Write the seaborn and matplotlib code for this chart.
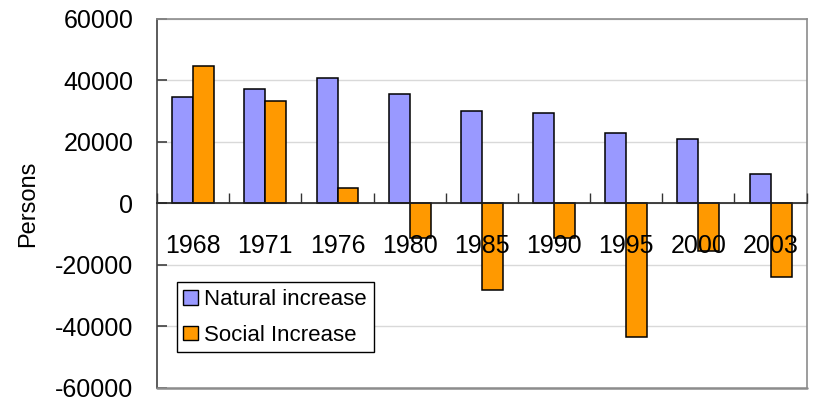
import numpy as np
import pandas as pd
import matplotlib
matplotlib.use("Agg")
import matplotlib.pyplot as plt
import seaborn as sns

# Population change by year (persons)
years = ["1968", "1971", "1976", "1980", "1985", "1990", "1995", "2000", "2003"]
natural_increase = [34500, 37100, 40900, 35700, 30100, 29300, 23000, 21100, 9600]
social_increase = [44700, 33200, 5000, -11300, -28100, -11300, -43500, -15300, -23800]
series_names = ["Natural increase", "Social Increase"]
y_ticks = [-60000, -40000, -20000, 0, 20000, 40000, 60000]

df = pd.DataFrame({
    "year": years * 2,
    "value": natural_increase + social_increase,
    "series": [series_names[0]] * len(years) + [series_names[1]] * len(years),
})

sns.set_theme(style="white")
plt.rcParams["font.family"] = ["Liberation Sans", "DejaVu Sans"]
plt.rcParams["text.color"] = "black"
plt.rcParams["axes.labelcolor"] = "black"

fig = plt.figure(figsize=(8.14, 3.99), dpi=100)
ax = fig.add_axes([0.193, 0.0276, 0.798, 0.9248])

palette = {series_names[0]: "#9999FF", series_names[1]: "#FF9900"}
sns.barplot(data=df, x="year", y="value", hue="series", order=years,
            hue_order=series_names, palette=palette, width=0.58,
            edgecolor="black", linewidth=1.1, saturation=1, ax=ax)

ax.set_xlim(-0.5, len(years) - 0.5)
ax.set_ylim(y_ticks[0], y_ticks[-1])
ax.set_yticks(y_ticks)
ax.set_yticklabels([str(v) for v in y_ticks])

# gridlines behind bars, category labels above them
ax.yaxis.grid(True, color="#d9d9d9", linewidth=1)
ax.xaxis.grid(False)
ax.yaxis.set_zorder(0.5)
ax.xaxis.set_zorder(3)

# zero line acts as the category axis
ax.spines["bottom"].set_position(("data", 0))
ax.spines["bottom"].set_color("#222222")
ax.spines["bottom"].set_linewidth(1.2)
ax.spines["left"].set_color("#404040")
ax.spines["left"].set_linewidth(1.2)
for side in ("top", "right"):
    ax.spines[side].set_color("#8c8c8c")
    ax.spines[side].set_linewidth(1.2)
ax.plot([0, 1], [0, 0], transform=ax.transAxes, color="#8c8c8c",
        linewidth=1.8, clip_on=False, zorder=3)

ax.set_xticks(range(len(years)))
ax.set_xticklabels(years)
ax.set_xticks(np.arange(-0.5, len(years)), minor=True)
ax.tick_params(axis="x", which="major", length=0, pad=22, labelsize=18,
               labelcolor="black", bottom=True)
ax.tick_params(axis="x", which="minor", direction="in", length=7,
               width=1, color="#333333", bottom=True)
ax.tick_params(axis="y", which="major", direction="in", length=7, width=1.2,
               color="#404040", pad=17, labelsize=18, labelcolor="black",
               left=True)

ax.set_xlabel("")
ax.set_ylabel("Persons", fontsize=17, color="black")
ax.yaxis.set_label_coords(-0.182, 0.5)

sns.move_legend(ax, "upper left", bbox_to_anchor=(0.030, 0.286),
                borderaxespad=0, title=None, frameon=True, fancybox=False,
                fontsize=16, handlelength=0.64, handleheight=0.6,
                handletextpad=0.3, labelspacing=0.64, borderpad=0.31,
                labelcolor="black")
leg = ax.get_legend()
leg.get_frame().set_edgecolor("black")
leg.get_frame().set_linewidth(1)
leg.get_frame().set_alpha(1)
for h in leg.legend_handles:
    h.set_edgecolor("black")
    h.set_linewidth(1)

fig.savefig("out.png", dpi=100)
